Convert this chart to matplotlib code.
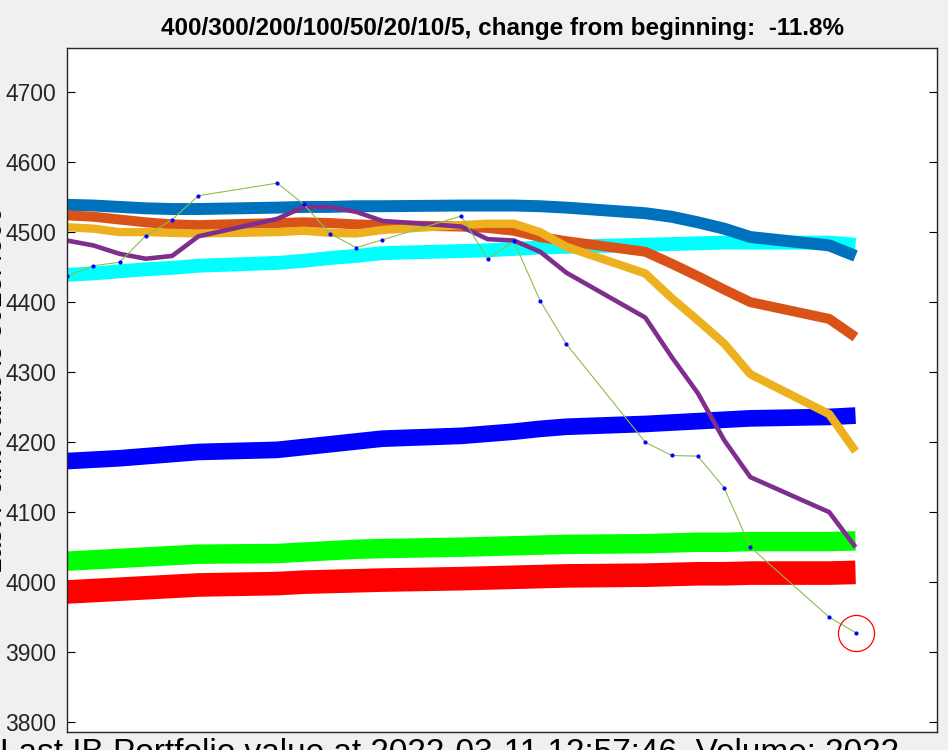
import matplotlib.pyplot as plt

# trading-day positions on the x axis
days = [0, 1, 2, 3, 4, 5, 8, 9, 10, 11, 12, 15, 16, 17, 18, 19, 22, 23, 24, 25, 26, 29, 30]

price = [4437, 4452, 4457, 4495, 4518, 4552, 4570, 4540, 4498, 4478, 4489, 4523, 4462, 4487,
         4402, 4340, 4200, 4181, 4180, 4135, 4050, 3950, 3928]

ma400 = [3986, 3988, 3990, 3992, 3994, 3996, 3998, 4000, 4001, 4002, 4003, 4005, 4006, 4007,
         4008, 4009, 4010, 4011, 4012, 4012, 4013, 4013, 4014]
ma300 = [4030, 4032, 4034, 4036, 4038, 4040, 4041, 4043, 4045, 4047, 4048, 4050, 4051, 4052,
         4053, 4054, 4055, 4056, 4057, 4057, 4058, 4058, 4059]
ma200 = [4173, 4175, 4177, 4180, 4183, 4186, 4189, 4193, 4197, 4201, 4205, 4209, 4212, 4215,
         4219, 4222, 4226, 4228, 4230, 4232, 4234, 4236, 4238]
ma100 = [4439, 4441, 4444, 4447, 4449, 4452, 4456, 4459, 4463, 4466, 4470, 4473, 4474, 4476,
         4478, 4479, 4482, 4483, 4484, 4485, 4485, 4485, 4482]
ma50 = [4539, 4538, 4536, 4534, 4533, 4533, 4535, 4536, 4536, 4537, 4537, 4538, 4538, 4538,
        4537, 4535, 4527, 4522, 4514, 4505, 4493, 4481, 4466]
ma20 = [4524, 4522, 4518, 4514, 4511, 4510, 4513, 4514, 4513, 4511, 4510, 4508, 4506, 4502,
        4493, 4487, 4472, 4455, 4437, 4418, 4400, 4376, 4350]
ma10 = [4507, 4505, 4500, 4500, 4499, 4498, 4500, 4502, 4499, 4498, 4503, 4510, 4512, 4512,
        4500, 4479, 4441, 4406, 4374, 4341, 4297, 4240, 4187]
ma5 = [4488, 4481, 4469, 4462, 4466, 4494, 4519, 4536, 4536, 4529, 4516, 4508, 4490, 4488,
       4472, 4442, 4378, 4322, 4270, 4203, 4150, 4100, 4050]

title = "400/300/200/100/50/20/10/5, change from beginning:  -11.8%"

plt.rcParams['font.family'] = ['Liberation Sans', 'DejaVu Sans']

fig = plt.figure(figsize=(9.48, 7.5), dpi=100, facecolor='#f0f0f0')
ax = fig.add_axes([0.0707, 0.024, 0.9177, 0.912])

ax.plot(days, ma400, color='#ff0000', lw=17, solid_capstyle='butt')
ax.plot(days, ma300, color='#00ff00', lw=14.0, solid_capstyle='butt')
ax.plot(days, ma200, color='#0000ff', lw=12.0, solid_capstyle='butt')
ax.plot(days, ma100, color='#00ffff', lw=10.0, solid_capstyle='butt')
ax.plot(days, ma50, color='#0072bd', lw=8.6, solid_capstyle='butt')
ax.plot(days, ma20, color='#d95319', lw=7.2, solid_capstyle='butt')
ax.plot(days, ma10, color='#edb120', lw=6.0, solid_capstyle='butt')
ax.plot(days, ma5, color='#7e2f8e', lw=3.3, solid_capstyle='butt')
ax.plot(days, price, color='#8cbf4a', lw=0.8, marker='.', ms=4, mfc='#0000ff', mec='#0000ff')
ax.plot(days[-1], price[-1], 'o', ms=26, mfc='none', mec='#ff0000', mew=0.9)

ax.set_xlim(0, 33.1)
ax.set_ylim(3786, 4763)
ax.set_yticks([3800, 3900, 4000, 4100, 4200, 4300, 4400, 4500, 4600, 4700])
ax.set_xticks([])
ax.tick_params(axis='y', labelsize=16.5, direction='in', length=6, right=True, pad=8,
               labelcolor='#262626')
for s in ax.spines.values():
    s.set_linewidth(1.0)
    s.set_color('#262626')

ax.set_title(title, fontsize=17.5, fontweight='bold', pad=9)
ax.set_ylabel("Last Point Value is 3928.4500", fontsize=20, labelpad=4)
ax.yaxis.set_label_coords(-0.068, 0.5)
fig.text(0.0, 0.016, "Last IB Portfolio value at 2022-03-11 12:57:46, Volume: 2022",
         fontsize=24, ha='left', va='top')

fig.savefig('out.png', dpi=100, facecolor=fig.get_facecolor())
